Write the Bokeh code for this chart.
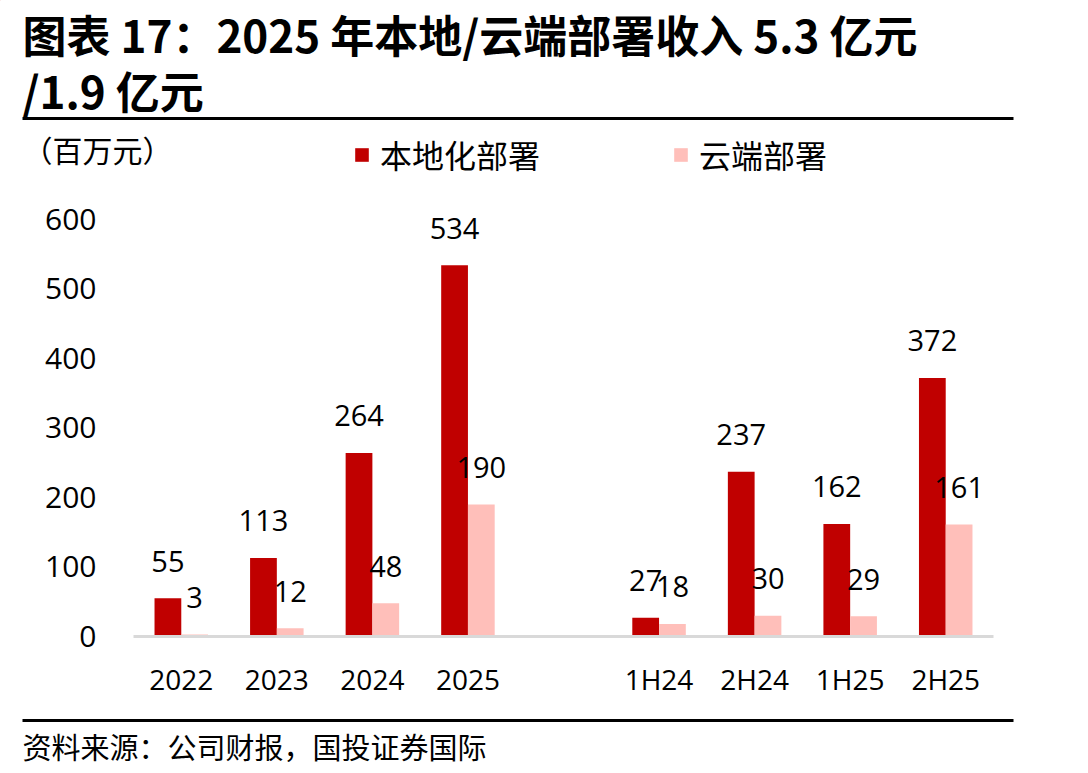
from bokeh.plotting import figure
from bokeh.layouts import column
from bokeh.models import (ColumnDataSource, FactorRange, Range1d, FixedTicker, Label,
                          Legend, LegendItem, BoxAnnotation)
from bokeh.transform import dodge
from bokeh.core.properties import value
from bokeh.embed import file_html
from bokeh.resources import INLINE

# ---- data ----
categories = ["2022", "2023", "2024", "2025", " ", "1H24", "2H24", "1H25", "2H25"]
bar_cats = ["2022", "2023", "2024", "2025", "1H24", "2H24", "1H25", "2H25"]
local_deploy = [55, 113, 264, 534, 27, 237, 162, 372]
cloud_deploy = [3, 12, 48, 190, 18, 30, 29, 161]
y_ticks = [0, 100, 200, 300, 400, 500, 600]

title_line1 = "图表 17：2025 年本地/云端部署收入 5.3 亿元"
title_line2 = "/1.9 亿元"
unit_text = "（百万元）"
series_names = ["本地化部署", "云端部署"]
source_text = "资料来源：公司财报，国投证券国际"

RED = "#C00000"
PINK = "#FFBFBA"
NUM_FONT = "Open Sans"
CJK_FONT = "Noto Sans CJK SC"

W = 1088
HEAD_H = 185
CHART_H = 515
FOOT_H = 773 - HEAD_H - CHART_H


def blank_fig(h):
    f = figure(width=W, height=h, x_range=Range1d(0, W), y_range=Range1d(h, 0),
               output_backend="svg", toolbar_location=None, frame_align=False,
               min_border=0, min_border_left=0, min_border_right=0,
               min_border_top=0, min_border_bottom=0)
    f.axis.visible = False
    f.grid.grid_line_color = None
    f.outline_line_color = None
    f.background_fill_color = "white"
    f.border_fill_color = "white"
    return f


def lab(f, text, x, y, size, font, bold=False):
    f.add_layout(Label(x=x, y=y, text=text, text_font=font, text_font_size=size,
                       text_font_style="bold" if bold else "normal",
                       text_align="left", text_baseline="middle", text_color="black"))


def rule(f, y):
    f.add_layout(BoxAnnotation(left=22, right=1013, top=y - 1.5, bottom=y + 1.5,
                               fill_color="black", fill_alpha=1, line_color=None))


# ---- header ----
head = blank_fig(HEAD_H)
lab(head, title_line1, 22, 33, "44px", CJK_FONT, bold=True)
lab(head, title_line2, 22, 89, "44px", CJK_FONT, bold=True)
rule(head, 118)
lab(head, unit_text, 22, 148, "30px", CJK_FONT)

# legend swatches (renderers kept outside the visible area; only used by the legend)
d1 = head.vbar(x=[-500], top=[-500], bottom=[-501], width=1, fill_color=RED, line_color=None)
d2 = head.vbar(x=[-500], top=[-500], bottom=[-501], width=1, fill_color=PINK, line_color=None)
legend = Legend(items=[LegendItem(label=series_names[0], renderers=[d1]),
                       LegendItem(label=series_names[1], renderers=[d2])],
                orientation="horizontal", location=(353, 8),
                glyph_width=17, glyph_height=17, label_standoff=10, spacing=132,
                padding=0, margin=0, border_line_color=None,
                background_fill_alpha=0,
                label_text_font=CJK_FONT, label_text_font_size="32px",
                label_text_color="black")
head.add_layout(legend, "center")

# ---- chart ----
src = ColumnDataSource(dict(
    cat=bar_cats,
    local=local_deploy,
    cloud=cloud_deploy,
    local_lbl=[str(v) for v in local_deploy],
    cloud_lbl=[str(v) for v in cloud_deploy],
))

left, right, top, bottom = 133, 95, 5, 62
frame_h = CHART_H - top - bottom
px_per_unit = (638 - 219) / 600.0
y_end = frame_h / px_per_unit

p = figure(width=W, height=CHART_H, x_range=FactorRange(*categories, range_padding=0),
           y_range=Range1d(0, y_end), output_backend="svg", toolbar_location=None,
           frame_align=False,
           min_border_left=left, min_border_right=right,
           min_border_top=top, min_border_bottom=bottom)
p.outline_line_color = None
p.grid.grid_line_color = None
p.background_fill_color = "white"
p.border_fill_color = "white"

p.vbar(x=dodge("cat", -0.14, range=p.x_range), top="local", width=0.28,
       source=src, fill_color=RED, line_color=None)
p.vbar(x=dodge("cat", 0.14, range=p.x_range), top="cloud", width=0.28,
       source=src, fill_color=PINK, line_color=None)

p.text(x=dodge("cat", -0.14, range=p.x_range), y="local", text="local_lbl", source=src,
       y_offset=-37, text_align="center", text_baseline="middle",
       text_font=value(NUM_FONT), text_font_size="29px", text_color="black")
p.text(x=dodge("cat", 0.14, range=p.x_range), y="cloud", text="cloud_lbl", source=src,
       y_offset=-37, text_align="center", text_baseline="middle",
       text_font=value(NUM_FONT), text_font_size="29px", text_color="black")

p.yaxis.ticker = FixedTicker(ticks=y_ticks)
p.yaxis.axis_line_color = None
p.yaxis.major_tick_line_color = None
p.yaxis.minor_tick_line_color = None
p.yaxis.major_label_standoff = 31
p.yaxis.major_label_text_font = NUM_FONT
p.yaxis.major_label_text_font_size = "30px"
p.yaxis.major_label_text_color = "black"

p.xaxis.axis_line_color = "#D9D9D9"
p.xaxis.axis_line_width = 3
p.xaxis.major_tick_line_color = None
p.xaxis.minor_tick_line_color = None
p.xaxis.major_label_standoff = 17
p.xaxis.major_label_text_font = NUM_FONT
p.xaxis.major_label_text_font_size = "28px"
p.xaxis.major_label_text_color = "black"

# ---- footer ----
foot = blank_fig(FOOT_H)
rule(foot, 720 - (HEAD_H + CHART_H))
lab(foot, source_text, 22, 745 - (HEAD_H + CHART_H), "29px", CJK_FONT)

layout = column(head, p, foot, spacing=0)
open("out.html", "w").write(file_html(layout, INLINE))
